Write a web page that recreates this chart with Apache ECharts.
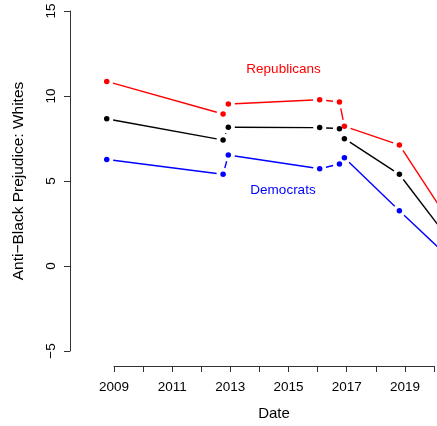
<!DOCTYPE html>
<html>
<head>
<meta charset="utf-8">
<script src="https://cdn.jsdelivr.net/npm/echarts@6/dist/echarts.min.js"></script>
<style>
  html, body { margin: 0; padding: 0; background: #fff; }
  #chart { width: 437px; height: 426px; }
</style>
</head>
<body>
<div id="chart"></div>
<script>
// Survey waves (decimal years) and mean anti-Black prejudice scores among whites
const dates       = [2008.75, 2012.75, 2012.93, 2016.07, 2016.75, 2016.92, 2018.81, 2020.5];
const overall     = [8.66, 7.41, 8.16, 8.14, 8.08, 7.49, 5.39, 1.61];
const republicans = [10.86, 8.94, 9.53, 9.78, 9.65, 8.22, 7.12, 2.70];
const democrats   = [6.27, 5.39, 6.53, 5.72, 6.00, 6.37, 3.25, 0.52];

const yTicks = [-5, 0, 5, 10, 15];
const xLabelYears = [2009, 2011, 2013, 2015, 2017, 2019];

const FONT = 'Liberation Sans, Arial, sans-serif';
const GAP = 6.5; // space left between a segment end and its point

function pairs(ys) {
  return dates.map((d, i) => [d, ys[i]]);
}

// Connecting segments stop short of each point (lines-and-points style)
function segmentSeries(ys, color) {
  const pts = pairs(ys);
  return {
    type: 'custom',
    data: pts,
    clip: false,
    silent: true,
    z: 2,
    renderItem: function (params, api) {
      const i = params.dataIndex;
      if (i >= pts.length - 1) return null;
      const a = api.coord(pts[i]);
      const b = api.coord(pts[i + 1]);
      const dx = b[0] - a[0], dy = b[1] - a[1];
      const len = Math.sqrt(dx * dx + dy * dy);
      if (len <= 2 * GAP) return null;
      const ux = dx / len, uy = dy / len;
      return {
        type: 'line',
        shape: {
          x1: a[0] + ux * GAP, y1: a[1] + uy * GAP,
          x2: b[0] - ux * GAP, y2: b[1] - uy * GAP
        },
        style: { stroke: color, lineWidth: 1.4 }
      };
    }
  };
}

function pointSeries(ys, color) {
  return {
    type: 'scatter',
    data: pairs(ys),
    symbol: 'circle',
    symbolSize: 5.5,
    clip: false,
    silent: true,
    z: 3,
    itemStyle: { color: color, opacity: 1 }
  };
}

const chart = echarts.init(document.getElementById('chart'), null, { renderer: 'canvas' });

chart.setOption({
  animation: false,
  backgroundColor: '#ffffff',
  grid: { left: 114, top: 11, width: 324.5, height: 340, containLabel: false },
  xAxis: {
    type: 'value',
    min: 2009, max: 2020, interval: 1,
    offset: 15,
    name: 'Date',
    nameLocation: 'middle',
    nameGap: 40,
    nameTextStyle: { fontFamily: FONT, fontSize: 15, color: '#000' },
    axisLine: { show: true, onZero: false, lineStyle: { color: '#333', width: 1 } },
    axisTick: { show: true, length: 6, inside: false, lineStyle: { color: '#333', width: 1 } },
    axisLabel: {
      margin: 14,
      fontFamily: FONT, fontSize: 13.5, color: '#000',
      showMinLabel: true, showMaxLabel: true,
      formatter: v => xLabelYears.includes(Math.round(v)) ? String(Math.round(v)) : ''
    },
    splitLine: { show: false }
  },
  yAxis: {
    type: 'value',
    min: yTicks[0], max: yTicks[yTicks.length - 1], interval: 5,
    offset: 44,
    name: 'Anti\u2212Black Prejudice: Whites',
    nameLocation: 'middle',
    nameGap: 43,
    nameRotate: 90,
    nameTextStyle: { fontFamily: FONT, fontSize: 15.5, color: '#000' },
    axisLine: { show: true, onZero: false, lineStyle: { color: '#333', width: 1 } },
    axisTick: { show: true, length: 6, inside: false, lineStyle: { color: '#333', width: 1 } },
    axisLabel: {
      rotate: 90,
      margin: 12,
      fontFamily: FONT, fontSize: 13.5, color: '#000',
      formatter: v => String(v).replace('-', '\u2212')
    },
    splitLine: { show: false }
  },
  series: [
    segmentSeries(overall, '#000000'),
    pointSeries(overall, '#000000'),
    segmentSeries(republicans, '#ff0000'),
    pointSeries(republicans, '#ff0000'),
    segmentSeries(democrats, '#0000ff'),
    pointSeries(democrats, '#0000ff')
  ],
  graphic: [
    {
      type: 'text', x: 283.5, y: 69.5,
      style: { text: 'Republicans', fill: '#ff0000', font: '13.5px ' + FONT, textAlign: 'center', textVerticalAlign: 'middle' }
    },
    {
      type: 'text', x: 283, y: 190.5,
      style: { text: 'Democrats', fill: '#0000ff', font: '13.5px ' + FONT, textAlign: 'center', textVerticalAlign: 'middle' }
    }
  ]
});
</script>
</body>
</html>
